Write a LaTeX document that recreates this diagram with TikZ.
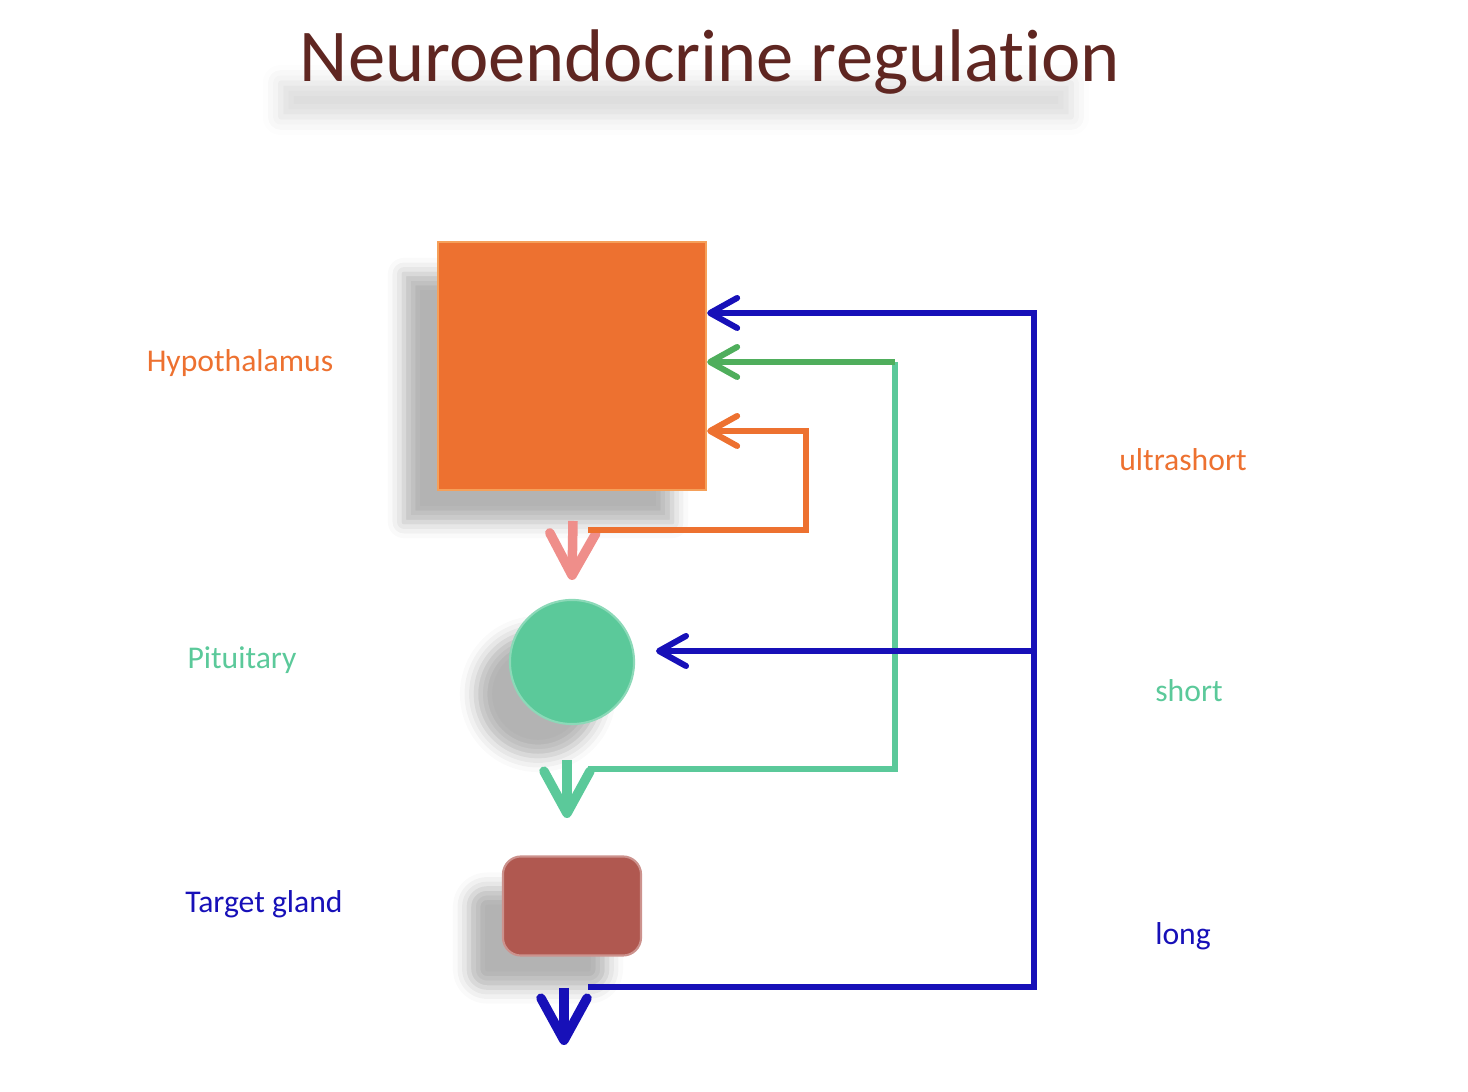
\documentclass[tikz,border=0pt]{standalone}
\usepackage{fontspec}
\setmainfont{Carlito}[Ligatures=NoCommon]
\usetikzlibrary{arrows.meta,shadows.blur}

\definecolor{titlered}{HTML}{5F2621}
\definecolor{hypoorange}{HTML}{ED7130}
\definecolor{hypoedge}{HTML}{F5A05A}
\definecolor{pitgreen}{HTML}{5BC99A}
\definecolor{darkgreen}{HTML}{4FAE5C}
\definecolor{longblue}{HTML}{1710B8}
\definecolor{pinkarrow}{HTML}{EF8E8A}
\definecolor{glandred}{HTML}{B05850}

\begin{document}
\begin{tikzpicture}[x=0.01cm, y=-0.01cm, >={Straight Barb[length=0.27cm,width=0.3cm,round]}, line width=0.06cm]
        \tikzstyle{organ}=[inner sep=0pt, blur shadow={shadow xshift=-0.34cm, shadow yshift=-0.32cm, shadow blur radius=0.16cm, shadow opacity=30}]
        \tikzstyle{label}=[font=\fontsize{9}{11}\selectfont, inner sep=0pt]
        \tikzstyle{titletext}=[font=\fontsize{21.2}{24}\selectfont, inner sep=0pt, anchor=base]
        \tikzstyle{outarrow}=[line width=0.095cm, -{Straight Barb[length=0.42cm,width=0.46cm,round]}]

        \useasboundingbox (0,0) rectangle (1468,1092);

        % title and its soft shadow
        \node[minimum width=7.9cm, minimum height=0.34cm, inner sep=0pt, blur shadow={shadow xshift=0cm, shadow yshift=0cm, shadow blur radius=0.18cm, shadow opacity=14}] (titleshadow) at (676,100) {};
        \node[titletext, text=titlered] (title) at (710,82) {Neuroendocrine regulation};

        % organs
        \node[organ, fill=hypoorange, draw=hypoedge, line width=0.6pt, minimum width=2.68cm, minimum height=2.48cm] (hypo) at (572,366) {};
        \node[organ, circle, fill=pitgreen, draw=pitgreen!70!white, line width=0.6pt, minimum size=1.24cm] (pit) at (572,662) {};
        \node[organ, rounded corners=0.18cm, fill=glandred, draw=glandred!65!white, line width=0.6pt, minimum width=1.38cm, minimum height=0.99cm] (gland) at (572,906) {};

        % labels
        \node[label, text=hypoorange] (hypolabel) at (240,363) {Hypothalamus};
        \node[label, text=pitgreen] (pitlabel) at (242,660) {Pituitary};
        \node[label, text=longblue] (glandlabel) at (264,904) {Target gland};
        \node[label, text=hypoorange] (ultralabel) at (1183,460) {ultrashort};
        \node[label, text=pitgreen] (shortlabel) at (1189,691) {short};
        \node[label, text=longblue] (longlabel) at (1183,936) {long};

        % outputs going down
        \coordinate (hypoout) at (573,521);
        \coordinate (pitout) at (567,760);
        \coordinate (glandout) at (564,988);
        \draw[outarrow, pinkarrow] (hypoout) -- (pit.north |- 0,580);
        \draw[outarrow, pitgreen] (pitout) -- (567,818);
        \draw[outarrow, longblue] (glandout) -- (564,1045);

        % feedback loops
        \coordinate (ultrastart) at (588,530);
        \coordinate (ultraknee) at (806,431);
        \coordinate (shortstart) at (588,769);
        \coordinate (shortknee) at (895,362);
        \coordinate (longstart) at (588,987);
        \coordinate (longknee) at (1034,313);
        \coordinate (longbranch) at (1032,651);
        \coordinate (pitin) at (656,651);

        \draw[hypoorange, ->] (ultrastart) -| (ultraknee) -- (hypo.east |- ultraknee);
        \draw[pitgreen] (shortstart) -| (shortknee);
        \draw[darkgreen, ->] (shortknee) -- (hypo.east |- shortknee);
        \draw[longblue, ->] (longstart) -| (longknee) -- (hypo.east |- longknee);
        \draw[longblue, ->] (longbranch) -- (pitin);
    \end{tikzpicture}
\end{document}
